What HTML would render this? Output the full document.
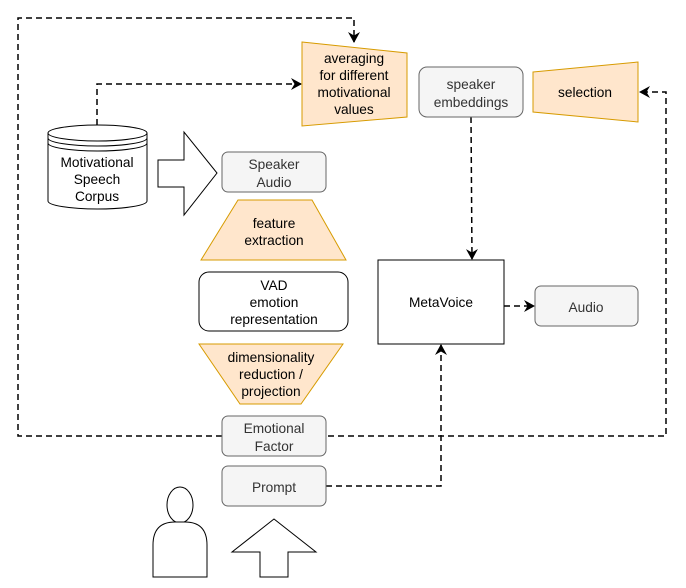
<!DOCTYPE html>
<html><head><style>body{margin:0;background:#fff}svg{display:block}text{font-family:"Liberation Sans",sans-serif;font-size:13.7px;text-anchor:middle}</style></head><body>
<svg width="686" height="588" viewBox="0 0 686 588">
<defs><marker id="a" markerWidth="12" markerHeight="12" refX="10" refY="6" orient="auto" markerUnits="userSpaceOnUse"><path d="M0,0 L11,6 L0,12 L3.5,6 Z" fill="#000"/></marker></defs>
<g fill="none" stroke="#000" stroke-width="1.5" stroke-dasharray="6,4">
<path d="M222,436 H18 V18 H354 V42" marker-end="url(#a)"/>
<path d="M328,436 H666 V92 H640" marker-end="url(#a)"/>
<path d="M97,125 V84 H301" marker-end="url(#a)"/>
<path d="M471,117 L472,259" marker-end="url(#a)"/>
<path d="M504,306 H534" marker-end="url(#a)"/>
<path d="M326,486 H441 V345" marker-end="url(#a)"/>
</g>
<g stroke="#000" fill="#fff">
<path d="M48,133 V201 A49.5,8 0 0 0 147,201 V133"/>
<ellipse cx="97.5" cy="133" rx="49.5" ry="8"/>
<path d="M48,138 A49.5,8 0 0 0 147,138 M48,143 A49.5,8 0 0 0 147,143" fill="none"/>
<path d="M158,160 H184 V132 L217,173 L184,215 V187 H158 Z"/>
<rect x="199" y="272" width="149" height="59" rx="10"/>
<rect x="378" y="260" width="126" height="84"/>
<ellipse cx="180" cy="505" rx="13" ry="18"/>
<path d="M153,577 V545 Q153,522 175,522 H185 Q207,522 207,545 V577 Z"/>
<path d="M274,519 L316,552 H288 V577 H260 V552 H232 Z"/>
</g>
<g fill="#ffe6cc" stroke="#d79b00">
<path d="M238,200 H312 L346,260 H201 Z"/>
<path d="M199,344 H343 L301,404 H240 Z"/>
<path d="M302,42 L407,53 V117 L302,126 Z"/>
<path d="M533,72 L638,62 V122 L533,112 Z"/>
</g>
<g fill="#f5f5f5" stroke="#666">
<rect x="222" y="152" width="104" height="40" rx="6"/>
<rect x="222" y="416" width="104" height="40" rx="6"/>
<rect x="222" y="466" width="104" height="40" rx="6"/>
<rect x="419" y="67" width="104" height="50" rx="8"/>
<rect x="535" y="286" width="103" height="40" rx="6"/>
</g>
<g fill="#000">
<text x="97" y="167">Motivational</text><text x="97" y="184">Speech</text><text x="97" y="201">Corpus</text>
<text x="274" y="228">feature</text><text x="274" y="245">extraction</text>
<text x="274" y="290">VAD</text><text x="274" y="307">emotion</text><text x="274" y="324">representation</text>
<text x="271" y="362">dimensionality</text><text x="271" y="379">reduction /</text><text x="271" y="396">projection</text>
<text x="354" y="63">averaging</text><text x="354" y="80">for different</text><text x="354" y="97">motivational</text><text x="354" y="114">values</text>
<text x="585" y="97">selection</text>
<text x="441" y="307">MetaVoice</text>
</g>
<g fill="#333" style="font-size:15px">
<text x="274" y="169">Speaker</text><text x="274" y="187">Audio</text>
<text x="274" y="433">Emotional</text><text x="274" y="451">Factor</text>
<text x="274" y="492">Prompt</text>
<text x="471" y="89">speaker</text><text x="471" y="107">embeddings</text>
<text x="586" y="312">Audio</text>
</g>
</svg></body></html>
